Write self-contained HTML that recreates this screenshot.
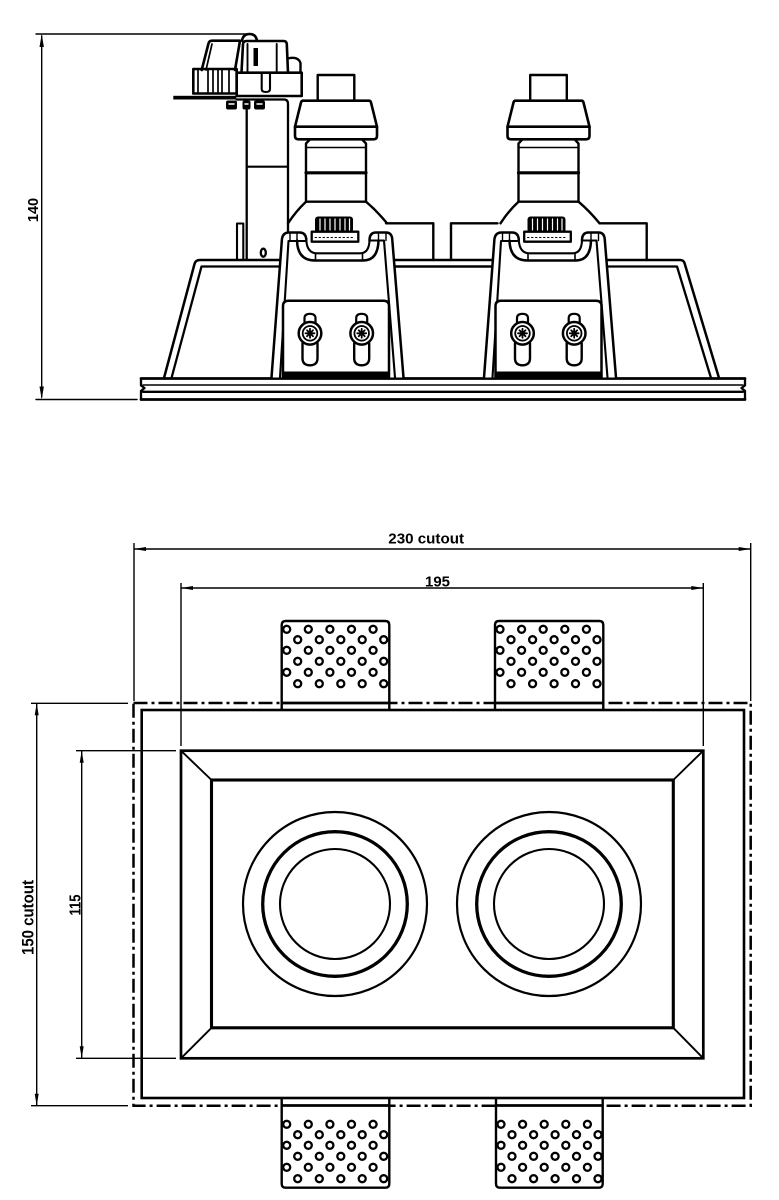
<!DOCTYPE html>
<html><head><meta charset="utf-8">
<style>html,body{margin:0;padding:0;background:#fff}svg{display:block}
text{font-family:"Liberation Sans",sans-serif;font-weight:bold;fill:#000}</style></head>
<body>
<svg width="779" height="1200" viewBox="0 0 779 1200" xmlns="http://www.w3.org/2000/svg">
<defs>
<g id="scr">
 <path d="M-5.5 -10 V-15 Q-5.5 -19.5 0 -19.5 Q5.5 -19.5 5.5 -15 V-10" fill="none" stroke="#000" stroke-width="2.2"/>
 <path d="M-7.5 10 V25 Q-7.5 32 0 32 Q7.5 32 7.5 25 V10" fill="#fff" stroke="#000" stroke-width="2.4"/>
 <circle r="11.3" fill="#fff" stroke="#000" stroke-width="2.5"/>
 <circle r="7.3" fill="none" stroke="#000" stroke-width="1.8"/>
 <path d="M0 -4.5 V4.5 M-4.5 0 H4.5 M-3 -3 L3 3 M-3 3 L3 -3" stroke="#000" stroke-width="1.8"/>
</g>
<g id="holes" fill="#fff" stroke="#000" stroke-width="2.3">
 <circle cx="5" cy="0" r="3.5"/><circle cx="26.6" cy="0" r="3.5"/><circle cx="48.2" cy="0" r="3.5"/><circle cx="69.8" cy="0" r="3.5"/><circle cx="91.4" cy="0" r="3.5"/>
 <circle cx="16" cy="10.4" r="3.5"/><circle cx="37.6" cy="10.4" r="3.5"/><circle cx="59.1" cy="10.4" r="3.5"/><circle cx="80.5" cy="10.4" r="3.5"/><circle cx="102" cy="10.4" r="3.5"/>
 <circle cx="5" cy="21" r="3.5"/><circle cx="26.6" cy="21" r="3.5"/><circle cx="48.2" cy="21" r="3.5"/><circle cx="69.8" cy="21" r="3.5"/><circle cx="91.4" cy="21" r="3.5"/>
 <circle cx="16" cy="32" r="3.5"/><circle cx="37.6" cy="32" r="3.5"/><circle cx="59.1" cy="32" r="3.5"/><circle cx="80.5" cy="32" r="3.5"/><circle cx="102" cy="32" r="3.5"/>
 <circle cx="5" cy="43" r="3.5"/><circle cx="26.6" cy="43" r="3.5"/><circle cx="48.2" cy="43" r="3.5"/><circle cx="69.8" cy="43" r="3.5"/><circle cx="91.4" cy="43" r="3.5"/>
 <circle cx="16" cy="54.4" r="3.5"/><circle cx="37.6" cy="54.4" r="3.5"/><circle cx="59.1" cy="54.4" r="3.5"/><circle cx="80.5" cy="54.4" r="3.5"/><circle cx="102" cy="54.4" r="3.5"/>
</g>
<g id="h1" fill="none" stroke="#000" stroke-linejoin="round" stroke-linecap="round">
 <rect x="317.7" y="75" width="36.6" height="25.7" stroke-width="2.4" fill="#fff"/>
 <path d="M303 100.7 H369 Q370.5 100.7 371 102.5 L377 126.7 H295 L301 102.5 Q301.5 100.7 303 100.7Z" stroke-width="2.6" fill="#fff"/>
 <path d="M295 126.7 V136 Q295 139.3 298.5 139.3 H373.5 Q377 139.3 377 136 V126.7" stroke-width="2.6"/>
 <path d="M310 139.3 L306 143.5 V201.7 H366 V143.5 L362 139.3" stroke-width="2.4"/>
 <line x1="306" y1="147.5" x2="366" y2="147.5" stroke-width="1.5"/>
 <line x1="306" y1="172.8" x2="366" y2="172.8" stroke-width="3.2"/>
 <path d="M306 201.7 Q296 211 288 223.3 M366 201.7 Q377 211 387 223.3" stroke-width="2.4"/>
 <path d="M271.5 377.5 L282 236 L392 236 L403.5 377.5Z" fill="#fff" stroke="none"/>
 <rect x="315" y="216.5" width="38" height="16" rx="3" fill="#000" stroke="none"/>
 <path d="M320 219 V230 M325 219 V230 M330 219 V230 M335 219 V230 M340 219 V230 M345 219 V230 M349.5 219 V230" stroke="#fff" stroke-width="1.2"/>
 <rect x="311.7" y="231.7" width="46.6" height="10" fill="#fff" stroke-width="2.3"/>
 <line x1="315" y1="237.5" x2="355" y2="237.5" stroke-width="1" stroke-dasharray="1.5 2.5"/>
 <path d="M271.5 377.5 L281.8 241 Q282 232.5 289 232.5 H299.5 Q306 232.5 306.3 240" stroke-width="2.5"/>
 <path d="M280 377.5 L288.5 241 H306" stroke-width="2.1"/>
 <path d="M290 233 V240.5 M297 233 V240.5" stroke-width="1.4"/>
 <path d="M297 240.5 Q297.5 260.5 315 260.5 H363 Q378 260.5 378.5 240.5" stroke-width="2.5"/>
 <path d="M306.3 240 Q307 253.3 317 253.3 H360 Q369 253.3 369.5 240.5" stroke-width="2.1"/>
 <path d="M315.5 253.3 V260.5 M362.5 253.3 V260.5" stroke-width="1.6"/>
 <path d="M369.5 240.5 Q369.5 232.5 376 232.5 H386 Q392 232.5 392.3 240 L403.5 377.5" stroke-width="2.5"/>
 <path d="M369.5 240.5 H384 L395 377.5" stroke-width="2.1"/>
 <path d="M378.5 233 V240.5 M386 233 V240.5" stroke-width="1.4"/>
 <path d="M283 378 V306 Q283 300.7 288.5 300.7 H383.5 Q389 300.7 389 306 V378" fill="#fff" stroke-width="2.5"/>
 <rect x="283" y="371.5" width="106" height="6.5" fill="#000" stroke="none"/>
 <use href="#scr" x="310" y="333.3"/>
 <use href="#scr" x="361.7" y="333.3"/>
</g>
</defs>
<rect width="779" height="1200" fill="#fff"/>

<!-- SIDE VIEW -->
<g fill="none" stroke="#000" stroke-linecap="round" stroke-linejoin="round">
 <g stroke-width="1.4">
  <line x1="36" y1="34" x2="250" y2="34"/>
  <line x1="36" y1="399.5" x2="137" y2="399.5"/>
  <line x1="41.7" y1="36" x2="41.7" y2="397"/>
 </g>
 <path d="M141 378.5 H745" stroke-width="2.7"/>
 <path d="M143 385 H743" stroke-width="1.5"/>
 <path d="M143 391.8 H743" stroke-width="2.3"/>
 <path d="M141 399.5 H745" stroke-width="2.7"/>
 <path d="M141 378.5 V385.5 L144.5 388 L141 391 V399.5" stroke-width="2.3"/>
 <path d="M745 378.5 V385.5 L741.5 388 L745 391 V399.5" stroke-width="2.3"/>
 <path d="M164 378 L194.5 264 Q195.5 260 200 260 H280.4" stroke-width="2.5"/>
 <path d="M171.5 378 L201.5 266.5 H279.9" stroke-width="2.3"/>
 <path d="M393.9 260 H492.9 M394.6 266.5 H492.4" stroke-width="2.4"/>
 <path d="M606.4 260 H680 Q683.5 260 684.5 263 L719 378" stroke-width="2.5"/>
 <path d="M607 266.5 H677 L711 378" stroke-width="2.3"/>
 <path d="M386 223.3 H433.3 V260" stroke-width="2.4"/>
 <path d="M451 260 V223.3 H497.5 M599.5 223.3 H646.7 V260" stroke-width="2.4"/>
 <path d="M246.7 110 V260" stroke-width="2.3"/>
 <path d="M246.7 166.7 H288" stroke-width="2.1"/>
 <path d="M237 260 V223.5 H243.3 V260" stroke-width="2.1"/>
 <ellipse cx="263.3" cy="252.7" rx="2.5" ry="4" stroke-width="2.3"/>
 <path d="M242 40.7 Q243 34 249.5 34 Q256 34 257 40.7" stroke-width="2.6"/>
 <path d="M201.7 70 L208.5 43.5 Q209.3 40.7 212 40.7 H240 L235 70" stroke-width="2.6"/>
 <path d="M206 70 L212 44" stroke-width="1.7"/>
 <path d="M241.5 72.7 L243 44 Q243.3 41 246.5 41 H283.5 Q286.5 41 286.8 44 L288 72.7" stroke-width="2.6"/>
 <path d="M247.5 44 V72.7 M276.7 44 V72.7" stroke-width="1.9"/>
 <rect x="253.5" y="48" width="4.5" height="18" fill="#000" stroke="none"/>
 <path d="M288 58.5 Q298 56 300.5 63 V72.7" stroke-width="2.4"/>
 <rect x="193.3" y="69" width="43.4" height="24.5" stroke-width="2.6"/>
 <path d="M198 70 V92 M208 70 V92 M213 70 V92 M218 70 V92 M222 70 V92 M229 70 V92" stroke-width="1.7"/>
 <rect x="236.7" y="72.7" width="65" height="23.3" stroke-width="2.6"/>
 <path d="M261.7 72.7 V89 Q261.7 92 265.8 92 Q270 92 270 89 V72.7" stroke-width="2.1"/>
 <rect x="173.3" y="95.8" width="63" height="3.7" fill="#000" stroke="none"/>
 <path d="M236.7 99.5 H284 Q288 99.5 288 104 V232.5" stroke-width="2.3"/>
 <rect x="226" y="100.5" width="11" height="9" rx="2" fill="#000" stroke="none"/>
 <rect x="242.5" y="100.5" width="8" height="9" rx="2" fill="#000" stroke="none"/>
 <rect x="254" y="100.5" width="11" height="9" rx="2" fill="#000" stroke="none"/>
 <path d="M229 104 H234 M245 104 H248 M257 104 H262" stroke="#fff" stroke-width="1.4"/>
</g>
<path d="M41.7 34 L39.5 47 L43.9 47 Z M41.7 399.5 L39.5 386.5 L43.9 386.5Z" fill="#000"/>
<text transform="translate(38,210) rotate(-90)" text-anchor="middle" font-size="14.5">140</text>

<use href="#h1"/>
<use href="#h1" transform="translate(212.5,0)"/>

<!-- PLAN VIEW -->
<g fill="none" stroke="#000" stroke-linecap="butt">
 <g stroke-width="1.4">
  <line x1="134" y1="543" x2="134" y2="701"/>
  <line x1="750.7" y1="543" x2="750.7" y2="701"/>
  <line x1="134" y1="549" x2="750.7" y2="549"/>
  <line x1="181" y1="583" x2="181" y2="746"/>
  <line x1="703.3" y1="583" x2="703.3" y2="746"/>
  <line x1="181" y1="588" x2="703.3" y2="588"/>
  <line x1="31" y1="703.3" x2="128" y2="703.3"/>
  <line x1="31" y1="1105.7" x2="128" y2="1105.7"/>
  <line x1="36.7" y1="703.3" x2="36.7" y2="1105.7"/>
  <line x1="76" y1="750.7" x2="176" y2="750.7"/>
  <line x1="76" y1="1058.3" x2="176" y2="1058.3"/>
  <line x1="81.7" y1="750.7" x2="81.7" y2="1058.3"/>
 </g>
 <rect x="133.5" y="703" width="617.2" height="402.7" stroke-width="2.5" stroke-dasharray="14 4 3 4"/>
 <path d="M281.7 710 V625 Q281.7 621 285.7 621 H385.3 Q389.3 621 389.3 625 V710" fill="#fff" stroke-width="2.4"/>
 <path d="M495 710 V625 Q495 621 499 621 H599.3 Q603.3 621 603.3 625 V710" fill="#fff" stroke-width="2.4"/>
 <path d="M281.7 1098 V1183.7 Q281.7 1187.7 285.7 1187.7 H385.3 Q389.3 1187.7 389.3 1183.7 V1098" fill="#fff" stroke-width="2.4"/>
 <path d="M496 1098 V1183.7 Q496 1187.7 500 1187.7 H598.7 Q602.7 1187.7 602.7 1183.7 V1098" fill="#fff" stroke-width="2.4"/>
 <path d="M281.7 703 H389.3 M495 703 H603.3 M281.7 1105.5 H389.3 M496 1105.5 H602.7" stroke-width="2.7"/>
 <rect x="141.7" y="710" width="602.3" height="388" stroke-width="2.6"/>
 <rect x="181" y="750.7" width="522.3" height="307.6" stroke-width="2.7"/>
 <rect x="211.5" y="780" width="461.8" height="247.8" stroke-width="3.1"/>
 <path d="M181 750.7 L211.5 780 M703.3 750.7 L673.3 780 M181 1058.3 L211.5 1027.8 M703.3 1058.3 L673.3 1027.8" stroke-width="1.9"/>
 <circle cx="335" cy="904" r="92" stroke-width="2.2"/>
 <circle cx="335" cy="904" r="72.3" stroke-width="3.3"/>
 <circle cx="335" cy="904" r="55" stroke-width="2.1"/>
 <circle cx="549" cy="904" r="92" stroke-width="2.2"/>
 <circle cx="549" cy="904" r="72.3" stroke-width="3.3"/>
 <circle cx="549" cy="904" r="55" stroke-width="2.1"/>
</g>
<use href="#holes" x="281.7" y="629.3"/>
<use href="#holes" x="495" y="629.3"/>
<use href="#holes" x="281.7" y="1124.3"/>
<use href="#holes" x="496" y="1124.3"/>

<path d="M134 549 L146 547 L146 551Z M750.7 549 L738.7 547 L738.7 551Z
 M181 588 L193 586 L193 590Z M703.3 588 L691.3 586 L691.3 590Z
 M36.7 703.3 L34.7 715.3 L38.7 715.3Z M36.7 1105.7 L34.7 1093.7 L38.7 1093.7Z
 M81.7 750.7 L79.7 762.7 L83.7 762.7Z M81.7 1058.3 L79.7 1046.3 L83.7 1046.3Z" fill="#000"/>

<text x="388.3" y="543.5" font-size="15" textLength="75.7" lengthAdjust="spacingAndGlyphs">230 cutout</text>
<text x="425" y="586.5" font-size="15" textLength="25" lengthAdjust="spacingAndGlyphs">195</text>
<text transform="translate(33.3,917.5) rotate(-90)" text-anchor="middle" font-size="16.5" textLength="75" lengthAdjust="spacingAndGlyphs">150 cutout</text>
<text transform="translate(80.5,905) rotate(-90)" text-anchor="middle" font-size="16" textLength="21" lengthAdjust="spacingAndGlyphs">115</text>
</svg>
</body></html>
